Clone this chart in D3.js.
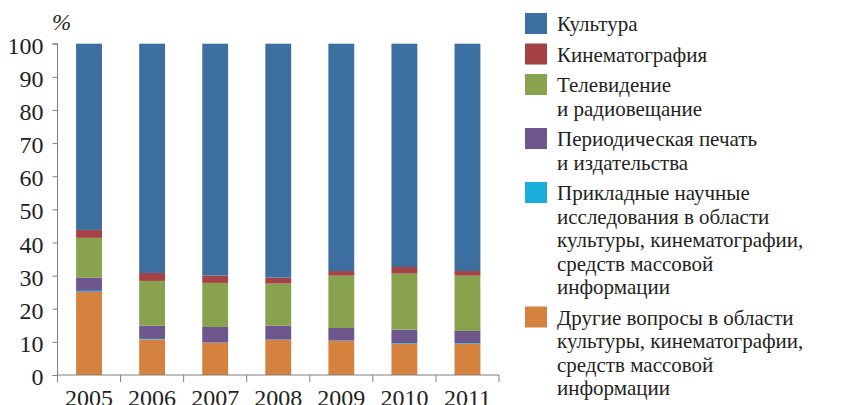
<!DOCTYPE html>
<html>
<head>
<meta charset="utf-8">
<script src="https://cdn.jsdelivr.net/npm/d3@7"></script>
<style>
  body { margin: 0; background: #fff; }
  .ax text { font-family: "Liberation Serif", "Tinos", serif; }
</style>
</head>
<body>
<svg id="chart" width="852" height="405"></svg>
<script>
// years on the x axis
var years = ["2005", "2006", "2007", "2008", "2009", "2010", "2011"];

// shares, %
var drugie     = [25.1, 10.7, 9.7, 10.6, 10.3, 9.4, 9.4];
var prikladnye = [0.3, 0.2, 0.1, 0.1, 0.1, 0.2, 0.2];
var pechat     = [4.0, 4.0, 4.7, 4.2, 3.8, 4.1, 3.7];
var tv         = [12.0, 13.5, 13.3, 12.7, 15.8, 16.9, 16.7];
var kino       = [2.4, 2.4, 2.2, 1.8, 1.4, 2.0, 1.4];
var kultura    = [56.2, 69.2, 70.0, 70.6, 68.6, 67.4, 68.6];

var yTicks = [0, 10, 20, 30, 40, 50, 60, 70, 80, 90, 100];

// legend order (top to bottom) with the text lines of each entry
var legendItems = [
  { key: "kultura",    lines: ["Культура"] },
  { key: "kino",       lines: ["Кинематография"] },
  { key: "tv",         lines: ["Телевидение", "и радиовещание"] },
  { key: "pechat",     lines: ["Периодическая печать", "и издательства"] },
  { key: "prikladnye", lines: ["Прикладные научные", "исследования в области", "культуры, кинематографии,", "средств массовой", "информации"] },
  { key: "drugie",     lines: ["Другие вопросы в области", "культуры, кинематографии,", "средств массовой", "информации"] }
];

var colors = {
  kultura: "#3c6e9f",
  kino: "#a44245",
  tv: "#88a24d",
  pechat: "#6d568c",
  prikladnye: "#19aedb",
  drugie: "#d5823f"
};

// stacking order, bottom to top
var stackKeys = ["drugie", "prikladnye", "pechat", "tv", "kino", "kultura"];
var series = { drugie: drugie, prikladnye: prikladnye, pechat: pechat, tv: tv, kino: kino, kultura: kultura };

var rows = years.map(function(yr, i) {
  var r = { year: yr };
  stackKeys.forEach(function(k) { r[k] = series[k][i]; });
  return r;
});

var INK = "#231f20", AXIS = "#7f7f7f";

var svg = d3.select("#chart");
var mLeft = 57.5, mRight = 499, mTop = 43.7, mBottom = 375;

var x = d3.scaleBand().domain(years).range([mLeft, mRight]).paddingInner(0.59).paddingOuter(0.295);
var y = d3.scaleLinear().domain([0, 100]).range([mBottom, mTop]);

var layers = d3.stack().keys(stackKeys)(rows);

svg.append("g").selectAll("g")
  .data(layers)
  .enter().append("g")
    .attr("fill", function(d) { return colors[d.key]; })
  .selectAll("rect")
  .data(function(d) { return d; })
  .enter().append("rect")
    .attr("x", function(d) { return x(d.data.year); })
    .attr("width", x.bandwidth())
    .attr("y", function(d) { return y(d[1]); })
    .attr("height", function(d) { return y(d[0]) - y(d[1]); });

// y axis
var yAxis = svg.append("g")
  .attr("class", "ax")
  .attr("transform", "translate(" + mLeft + ",0)")
  .call(d3.axisLeft(y).tickValues(yTicks).tickSize(5).tickPadding(9));
yAxis.attr("font-family", "Liberation Serif").attr("font-size", 24);
yAxis.selectAll("text").attr("fill", INK).attr("dy", "0.4em");
yAxis.selectAll("line, path").attr("stroke", AXIS);
yAxis.select(".domain").attr("d", "M-5," + mTop + "H0V" + mBottom);

// x axis: labels at band centres, tick marks at band borders
var step = x.step();
var xAxis = svg.append("g")
  .attr("class", "ax")
  .attr("transform", "translate(0," + mBottom + ")")
  .call(d3.axisBottom(x).tickSize(0).tickPadding(14));
xAxis.attr("font-family", "Liberation Serif").attr("font-size", 24);
xAxis.select(".domain").attr("stroke", AXIS).attr("d", "M" + mLeft + ",0H" + mRight);
xAxis.selectAll("text").attr("fill", INK);
xAxis.selectAll(".border")
  .data(d3.range(years.length + 1))
  .enter().append("line")
    .attr("class", "border")
    .attr("x1", function(i) { return mLeft + i * step; })
    .attr("x2", function(i) { return mLeft + i * step; })
    .attr("y1", 0).attr("y2", 7)
    .attr("stroke", AXIS);

svg.append("text")
  .attr("x", 52).attr("y", 30)
  .attr("font-size", 23).attr("font-style", "italic").attr("fill", INK)
  .attr("font-family", "Liberation Serif")
  .text("%");

// legend
var lineH = 23.5, gap = 30.5, tx = 557, sx = 525;
var base = 31;
var lg = svg.append("g").attr("font-family", "Liberation Serif").attr("font-size", 21);
legendItems.forEach(function(item) {
  lg.append("rect")
    .attr("x", sx).attr("y", base - 18)
    .attr("width", 22).attr("height", 21)
    .attr("fill", colors[item.key]);
  item.lines.forEach(function(t, j) {
    lg.append("text")
      .attr("x", tx).attr("y", base + j * lineH)
      .attr("fill", INK)
      .text(t);
  });
  base += (item.lines.length - 1) * lineH + gap;
});
</script>
</body>
</html>
